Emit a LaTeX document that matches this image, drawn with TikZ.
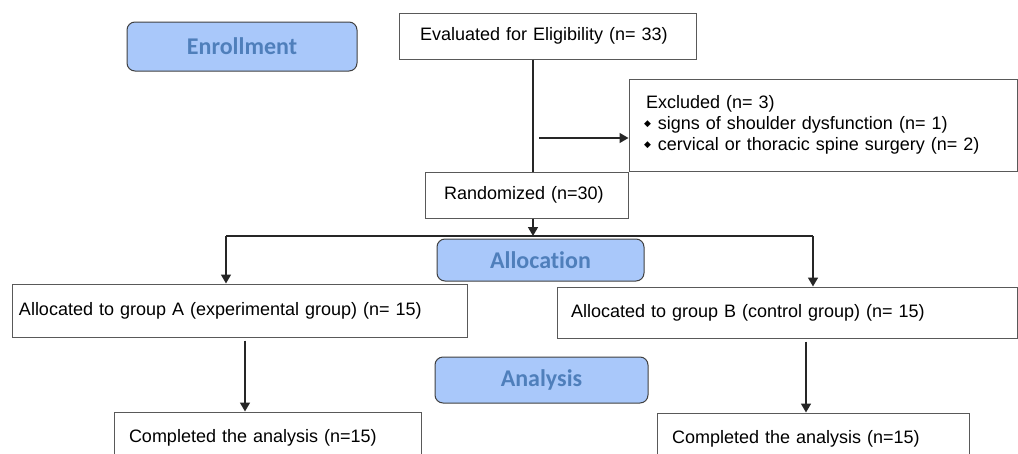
\documentclass[tikz,border=0pt]{standalone}
\usepackage{fontspec}
\setmainfont{Liberation Sans}
\newfontfamily\stagefont[Ligatures=NoCommon]{Carlito}
\newfontfamily\symfont{DejaVu Sans}
\usetikzlibrary{positioning, arrows.meta, shapes}
\definecolor{stagefill}{HTML}{A9C8FA}
\definecolor{stagetext}{HTML}{4F7FBB}
\newcommand{\excitem}{\raisebox{3pt}{\symfont\fontsize{9}{9}\selectfont ◆}\hspace{7pt}}
\tikzset{>={Triangle[width=10pt,length=9pt]}, x=1pt, y=-1pt,
  stage/.style={rectangle, rounded corners=8pt, draw=black!75, fill=stagefill, text=stagetext, line width=1pt, font=\stagefont\bfseries\fontsize{24}{28}\selectfont},
  box/.style={rectangle, draw=black!65, line width=1pt, align=left, font=\fontsize{18}{19}\selectfont},
  flow/.style={->, line width=1.6pt, draw=black!85},
  trunkline/.style={line width=1.6pt, draw=black!85}}

\begin{document}
\begin{tikzpicture}
    \useasboundingbox (0,0) rectangle (1018,453);
    \clip (0,0) rectangle (1018,453);
    % stages
    \node[stage, minimum width=230pt, minimum height=49pt] (enroll) at (242,46.5) {Enrollment};
    \node[stage, minimum width=207pt, minimum height=42pt] (alloc) at (540.5,260) {Allocation};
    \node[stage, minimum width=213pt, minimum height=46pt] (anal) at (541.5,380) {Analysis};
    % boxes
    \node[box, minimum height=46pt, inner xsep=21pt, text width=255pt] (eval) at (547.5,36) {Evaluated for Eligibility (n= 33)};
    \node[box, minimum height=46pt, inner xsep=19pt, text width=165pt] (rand) at (526.5,195) {Randomized (n=30)};
    \node[box, minimum height=92pt, inner xsep=15pt, text width=358pt, font=\fontsize{18}{21}\selectfont] (excl) at (823,125) {\hspace{2pt}Excluded (n= 3)\\
        \excitem signs of shoulder dysfunction (n= 1)\\
        \excitem cervical or thoracic spine surgery (n= 2)};
    \node[box, minimum height=53pt, inner xsep=7pt, text width=441pt] (grpA) at (239.5,310.5) {Allocated to group A (experimental group) (n= 15)\\[4pt]};
    \node[box, minimum height=51pt, inner xsep=14pt, text width=432pt] (grpB) at (787,312.5) {Allocated to group B (control group) (n= 15)\\[3pt]};
    \node[box, minimum height=52pt, inner xsep=15pt, text width=277pt] (compA) at (267.5,438) {Completed the analysis (n=15)};
    \node[box, minimum height=52pt, inner xsep=15pt, text width=282pt] (compB) at (813,439) {Completed the analysis (n=15)};
    % connectors
    \coordinate (trunk) at (533,0);
    \coordinate (exclstart) at (539,138);
    \coordinate (split) at (533,236);
    \coordinate (armA) at (226,236);
    \coordinate (armB) at (813,236);
    \draw[trunkline] (eval.south -| trunk) -- (rand.north -| trunk);
    \draw[flow] (exclstart) -- (exclstart -| excl.west);
    \draw[flow] (rand.south -| split) -- (split);
    \draw[trunkline] (armA) -- (armB);
    \draw[flow] (armA) -- (armA |- grpA.north);
    \draw[flow] (armB) -- (armB |- grpB.north);
    \draw[flow] ([xshift=5.5pt,yshift=-3pt]grpA.south) -- ([xshift=5.5pt]grpA.south |- compA.north);
    \draw[flow] ([xshift=19pt,yshift=-3pt]grpB.south) -- ([xshift=19pt]grpB.south |- compB.north);
\end{tikzpicture}
\end{document}
